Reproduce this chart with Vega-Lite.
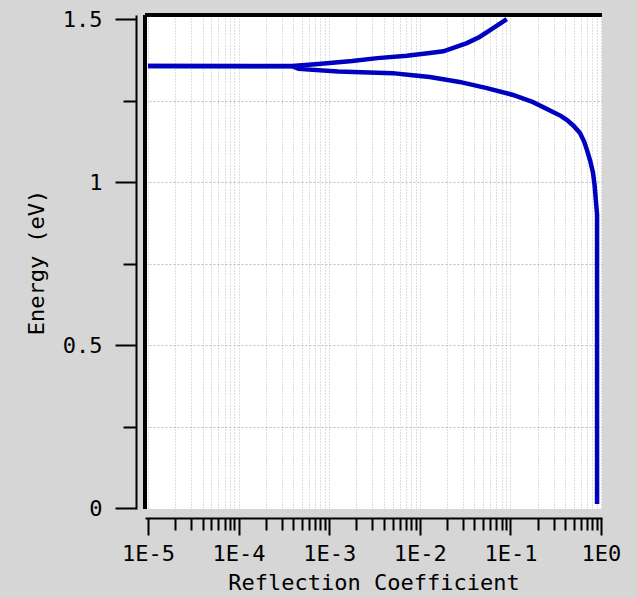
{
  "$schema": "https://vega.github.io/schema/vega-lite/v6.json",
  "autosize": "none",
  "width": 457,
  "height": 494,
  "padding": {"left": 145, "top": 15, "right": 35, "bottom": 89},
  "background": "#d6d6d6",
  "view": {"fill": "white", "stroke": null},
  "config": {
    "font": "DejaVu Sans Mono",
    "axis": {
      "domainColor": "black", "domainWidth": 2,
      "tickColor": "black", "tickWidth": 2,
      "labelFont": "DejaVu Sans Mono", "labelFontSize": 22, "labelColor": "black",
      "titleFont": "DejaVu Sans Mono", "titleFontSize": 22, "titleFontWeight": "normal", "titleColor": "black",
      "labelOverlap": false, "labelFlush": false, "labelBound": false
    }
  },
  "data": {"values": [
    {"branch": "upper", "i": 0, "r": 0.00001, "e": 1.356},
    {"branch": "upper", "i": 1, "r": 0.00039, "e": 1.356},
    {"branch": "upper", "i": 2, "r": 0.00076, "e": 1.362},
    {"branch": "upper", "i": 3, "r": 0.0018, "e": 1.371},
    {"branch": "upper", "i": 4, "r": 0.0034, "e": 1.380},
    {"branch": "upper", "i": 5, "r": 0.0072, "e": 1.387},
    {"branch": "upper", "i": 6, "r": 0.0129, "e": 1.396},
    {"branch": "upper", "i": 7, "r": 0.0182, "e": 1.401},
    {"branch": "upper", "i": 8, "r": 0.0331, "e": 1.426},
    {"branch": "upper", "i": 9, "r": 0.0457, "e": 1.445},
    {"branch": "upper", "i": 10, "r": 0.0646, "e": 1.472},
    {"branch": "upper", "i": 11, "r": 0.0912, "e": 1.500},
    {"branch": "lower", "i": 0, "r": 0.00001, "e": 1.356},
    {"branch": "lower", "i": 1, "r": 0.00039, "e": 1.355},
    {"branch": "lower", "i": 2, "r": 0.00046, "e": 1.347},
    {"branch": "lower", "i": 3, "r": 0.00126, "e": 1.339},
    {"branch": "lower", "i": 4, "r": 0.005, "e": 1.334},
    {"branch": "lower", "i": 5, "r": 0.0078, "e": 1.328},
    {"branch": "lower", "i": 6, "r": 0.0129, "e": 1.322},
    {"branch": "lower", "i": 7, "r": 0.0275, "e": 1.307},
    {"branch": "lower", "i": 8, "r": 0.055, "e": 1.288},
    {"branch": "lower", "i": 9, "r": 0.107, "e": 1.267},
    {"branch": "lower", "i": 10, "r": 0.178, "e": 1.245},
    {"branch": "lower", "i": 11, "r": 0.295, "e": 1.215},
    {"branch": "lower", "i": 12, "r": 0.36, "e": 1.203},
    {"branch": "lower", "i": 13, "r": 0.422, "e": 1.190},
    {"branch": "lower", "i": 14, "r": 0.5, "e": 1.172},
    {"branch": "lower", "i": 15, "r": 0.586, "e": 1.150},
    {"branch": "lower", "i": 16, "r": 0.65, "e": 1.125},
    {"branch": "lower", "i": 17, "r": 0.701, "e": 1.098},
    {"branch": "lower", "i": 18, "r": 0.76, "e": 1.065},
    {"branch": "lower", "i": 19, "r": 0.817, "e": 1.028},
    {"branch": "lower", "i": 20, "r": 0.85, "e": 0.99},
    {"branch": "lower", "i": 21, "r": 0.88, "e": 0.94},
    {"branch": "lower", "i": 22, "r": 0.905, "e": 0.90},
    {"branch": "lower", "i": 23, "r": 0.905, "e": 0.012}
  ]},
  "layer": [
    {
      "mark": {"type": "line", "color": "#0000c0", "strokeWidth": 4.5, "clip": true},
      "encoding": {
        "x": {
          "field": "r", "type": "quantitative",
          "scale": {"type": "log", "domain": [0.00000927, 1.026], "nice": false},
          "axis": {
            "title": "Reflection Coefficient",
            "offset": 9,
            "values": [0.00001,0.00002,0.00003,0.00004,0.00005,0.00006,0.00007,0.00008,0.00009,
                       0.0001,0.0002,0.0003,0.0004,0.0005,0.0006,0.0007,0.0008,0.0009,
                       0.001,0.002,0.003,0.004,0.005,0.006,0.007,0.008,0.009,
                       0.01,0.02,0.03,0.04,0.05,0.06,0.07,0.08,0.09,
                       0.1,0.2,0.3,0.4,0.5,0.6,0.7,0.8,0.9,1],
            "labelExpr": "abs(log(datum.value)/LN10 - round(log(datum.value)/LN10)) < 0.000001 ? '1E' + round(log(datum.value)/LN10) : ''",
            "tickSize": {"condition": {"test": "abs(log(datum.value)/LN10 - round(log(datum.value)/LN10)) < 0.000001", "value": 17}, "value": 12},
            "labelPadding": 8,
            "titlePadding": 8,
            "grid": true, "gridColor": "#bdbdbd", "gridDash": [1, 2], "gridWidth": 1
          }
        },
        "y": {
          "field": "e", "type": "quantitative",
          "scale": {"domain": [-0.003, 1.5123], "nice": false, "zero": false},
          "axis": {
            "title": "Energy (eV)",
            "offset": 9,
            "values": [0, 0.25, 0.5, 0.75, 1, 1.25, 1.5],
            "labelExpr": "datum.value % 0.5 == 0 ? '' + datum.value : ''",
            "tickSize": {"condition": {"test": "datum.value % 0.5 == 0", "value": 21}, "value": 13},
            "labelPadding": 13,
            "titlePadding": 14,
            "grid": true, "gridColor": "#bdbdbd", "gridDash": [2, 2], "gridWidth": 1,
            "gridOpacity": {"condition": {"test": "datum.value == 0 || datum.value == 1.5", "value": 0}, "value": 1}
          }
        },
        "detail": {"field": "branch"},
        "order": {"field": "i", "type": "quantitative"}
      }
    },
    {
      "mark": {"type": "rule", "color": "black", "strokeWidth": 3},
      "encoding": {"y": {"datum": 1.5123}}
    },
    {
      "mark": {"type": "rule", "color": "black", "strokeWidth": 3},
      "encoding": {"x": {"datum": 0.00000927}}
    }
  ]
}
